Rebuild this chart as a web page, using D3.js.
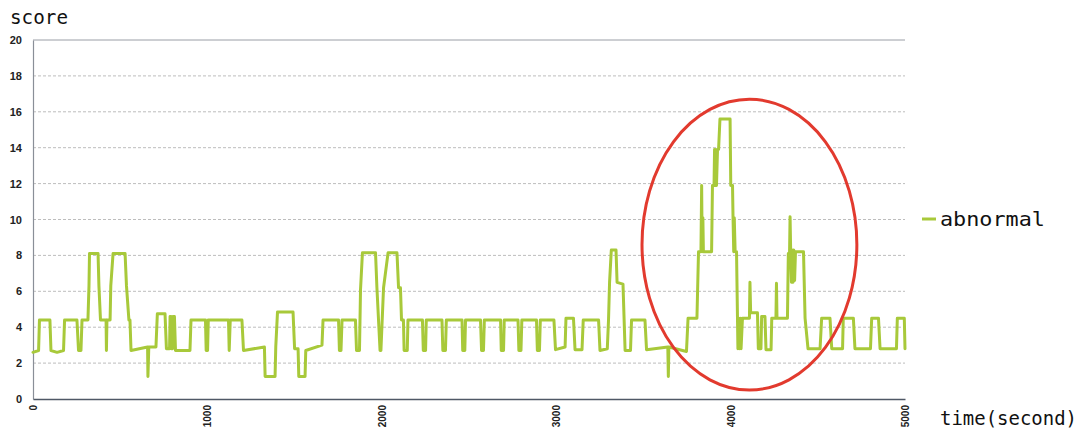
<!DOCTYPE html>
<html>
<head>
<meta charset="utf-8">
<script src="https://cdn.jsdelivr.net/npm/d3@7"></script>
<style>
  html, body { margin: 0; padding: 0; background: #ffffff; }
  svg { display: block; }
</style>
</head>
<body>
<svg id="chart" width="1080" height="432"></svg>
<script>
// ---- data ----
const yTicks = [0, 2, 4, 6, 8, 10, 12, 14, 16, 18, 20];
const xTicks = [0, 1000, 2000, 3000, 4000, 5000];
const seriesName = "abnormal";
const yTitle = "score";
const xTitle = "time(second)";

const time = [
  0, 32, 37, 97, 103, 138, 175, 181, 252, 261, 275, 281, 315, 321, 324, 373, 378, 387,
  419, 421, 424, 442, 446, 459, 528, 536, 550, 556, 562, 657, 659, 664, 705, 713, 757,
  765, 783, 786, 791, 794, 800, 803, 811, 817, 900, 906, 989, 993, 1001, 1005, 1121,
  1125, 1131, 1198, 1207, 1327, 1331, 1388, 1392, 1402, 1491, 1500, 1520, 1524, 1560,
  1564, 1657, 1663, 1752, 1757, 1766, 1772, 1849, 1855, 1872, 1878, 1889, 1964, 1972,
  1990, 1995, 2010, 2036, 2087, 2096, 2107, 2113, 2124, 2128, 2146, 2150, 2233, 2238,
  2251, 2255, 2345, 2350, 2365, 2370, 2460, 2464, 2476, 2480, 2566, 2572, 2583, 2588,
  2681, 2685, 2698, 2702, 2781, 2786, 2798, 2803, 2887, 2892, 2904, 2909, 2987, 2996,
  3051, 3056, 3099, 3108, 3148, 3155, 3243, 3251, 3293, 3300, 3306, 3316, 3343, 3349,
  3383, 3395, 3426, 3432, 3509, 3518, 3640, 3643, 3646, 3747, 3756, 3807, 3816, 3830,
  3834, 3837, 3841, 3844, 3891, 3896, 3905, 3908, 3911, 3916, 3919, 3925, 3931, 3939,
  3997, 4001, 4011, 4014, 4018, 4021, 4026, 4034, 4042, 4047, 4051, 4056, 4060, 4068,
  4108, 4111, 4115, 4154, 4159, 4174, 4178, 4197, 4203, 4232, 4236, 4260, 4263, 4266,
  4326, 4331, 4338, 4341, 4344, 4349, 4353, 4358, 4362, 4367, 4372, 4418, 4427, 4444,
  4513, 4522, 4570, 4580, 4642, 4646, 4704, 4713, 4802, 4809, 4848, 4857, 4951, 4956,
  4996, 5000
];
const score = [
  2.6, 2.7, 4.4, 4.4, 2.7, 2.6, 2.7, 4.4, 4.4, 2.7, 2.7, 4.4, 4.4, 6.3, 8.1, 8.1, 6.3, 4.4,
  4.4, 2.7, 4.4, 4.4, 6.3, 8.1, 8.1, 6.3, 4.4, 4.4, 2.7, 2.9, 1.25, 2.9, 2.9, 4.75, 4.75,
  2.8, 2.8, 4.6, 4.6, 2.8, 2.8, 4.6, 4.6, 2.7, 2.7, 4.4, 4.4, 2.7, 2.7, 4.4, 4.4,
  2.7, 4.4, 4.4, 2.7, 2.9, 1.25, 1.25, 2.9, 4.85, 4.85, 2.8, 2.8, 1.25, 1.25,
  2.7, 3.0, 4.4, 4.4, 2.7, 2.7, 4.4, 4.4, 2.7, 2.7, 6.1, 8.15, 8.15, 6.2,
  2.7, 2.7, 6.2, 8.15, 8.15, 6.2, 6.2, 4.4, 4.4, 2.7, 2.7, 4.4, 4.4, 2.7,
  2.7, 4.4, 4.4, 2.7, 2.7, 4.4, 4.4, 2.7, 2.7, 4.4, 4.4, 2.7, 2.7, 4.4,
  4.4, 2.7, 2.7, 4.4, 4.4, 2.7, 2.7, 4.4, 4.4, 2.7, 2.7, 4.4, 4.4, 2.75,
  2.9, 4.5, 4.5, 2.75, 2.75, 4.4, 4.4, 2.7, 2.8, 4.4, 6.5, 8.3, 8.3, 6.5,
  6.4, 2.7, 2.7, 4.4, 4.4, 2.75, 2.9, 1.25, 2.9, 2.65, 4.5, 4.5, 8.2, 8.2,
  11.9, 8.2, 10.1, 8.2, 8.2, 11.9, 11.9, 13.9, 11.9, 13.9, 11.9, 13.9, 13.9, 15.6,
  15.6, 11.9, 11.9, 10.1, 8.2, 10.1, 8.2, 8.2, 2.8, 4.5, 2.8, 4.5, 2.8, 4.5,
  4.5, 6.5, 4.8, 4.8, 2.8, 2.8, 4.6, 4.6, 2.75, 2.75, 4.5, 4.5, 6.45, 4.5,
  4.5, 8.1, 8.1, 10.15, 8.5, 6.5, 8.3, 6.5, 8.3, 6.6, 8.2, 8.2, 4.5, 2.8,
  2.8, 4.5, 4.5, 2.8, 2.8, 4.5, 4.5, 2.8, 2.8, 4.5, 4.5, 2.8, 2.8, 4.5,
  4.5, 2.8
];

// annotation ellipse (center time, center score, half-width in seconds, half-height in score)
const ellipseCenter = [4108, 8.6];
const ellipseRadii = [616, 8.1];

// ---- layout ----
const svg = d3.select("#chart");
const margin = { left: 33, top: 40, right: 175, bottom: 33 };
const W = 1080, H = 432;
const x = d3.scaleLinear().domain([0, 5000]).range([margin.left, W - margin.right]);
const y = d3.scaleLinear().domain([0, 20]).range([H - margin.bottom, margin.top]);

svg.append("rect").attr("width", W).attr("height", H).attr("fill", "#ffffff");

// grid lines
svg.append("g")
  .selectAll("line")
  .data(yTicks.filter(d => d > 0))
  .join("line")
  .attr("x1", x(0)).attr("x2", x(5000))
  .attr("y1", d => y(d)).attr("y2", d => y(d))
  .attr("stroke", d => d === 20 ? "#9a9ea6" : "#bdbdbd")
  .attr("stroke-width", 1)
  .attr("stroke-dasharray", d => d === 20 ? null : "3,2");

// y axis
const yAxis = d3.axisLeft(y).tickValues(yTicks).tickSize(0).tickPadding(11);
const gy = svg.append("g").attr("transform", `translate(${x(0)},0)`).call(yAxis);
gy.select(".domain").attr("stroke", "#8a8f98").attr("stroke-width", 1.2);
gy.selectAll("text")
  .attr("font-family", "Liberation Sans, Arial, sans-serif")
  .attr("font-size", 11).attr("font-weight", "bold").attr("fill", "#222");

// x axis
const xAxis = d3.axisBottom(x).tickValues(xTicks).tickFormat(d3.format("d")).tickSize(0).tickPadding(0);
const gx = svg.append("g").attr("transform", `translate(0,${y(0)})`).call(xAxis);
gx.select(".domain").attr("stroke", "#4f5866").attr("stroke-width", 1.6);
gx.selectAll("text")
  .attr("font-family", "Liberation Sans, Arial, sans-serif")
  .attr("font-size", 10).attr("font-weight", "bold").attr("fill", "#222")
  .attr("transform", "rotate(-90)")
  .attr("text-anchor", "end")
  .attr("dy", "0.35em")
  .attr("x", -6).attr("y", 0);

// series line
const pts = time.map((t, i) => [t, score[i]]);
const line = d3.line().x(d => x(d[0])).y(d => y(d[1])).curve(d3.curveLinear);
svg.append("path")
  .datum(pts)
  .attr("d", line)
  .attr("fill", "none")
  .attr("stroke", "#a8c93a")
  .attr("stroke-width", 3)
  .attr("stroke-linejoin", "round")
  .attr("stroke-linecap", "round");

// red ellipse annotation
svg.append("ellipse")
  .attr("cx", x(ellipseCenter[0]))
  .attr("cy", y(ellipseCenter[1]))
  .attr("rx", x(ellipseRadii[0]) - x(0))
  .attr("ry", y(0) - y(ellipseRadii[1]))
  .attr("fill", "none")
  .attr("stroke", "#e23a2e")
  .attr("stroke-width", 3);

// axis titles
const mono = "DejaVu Sans Mono, Liberation Mono, monospace";
svg.append("text")
  .attr("x", 10).attr("y", 24)
  .attr("font-family", mono).attr("font-size", 19)
  .attr("fill", "#111")
  .attr("textLength", 58).attr("lengthAdjust", "spacingAndGlyphs")
  .text(yTitle);

svg.append("text")
  .attr("x", 940).attr("y", 425)
  .attr("font-family", mono).attr("font-size", 19)
  .attr("fill", "#111")
  .attr("textLength", 137).attr("lengthAdjust", "spacingAndGlyphs")
  .text(xTitle);

// legend
const lg = svg.append("g");
lg.append("line")
  .attr("x1", 922).attr("x2", 936).attr("y1", 219).attr("y2", 219)
  .attr("stroke", "#a8c93a").attr("stroke-width", 3);
lg.append("text")
  .attr("x", 940).attr("y", 226)
  .attr("font-family", mono).attr("font-size", 19)
  .attr("fill", "#111")
  .attr("textLength", 105).attr("lengthAdjust", "spacingAndGlyphs")
  .text(seriesName);
</script>
</body>
</html>
